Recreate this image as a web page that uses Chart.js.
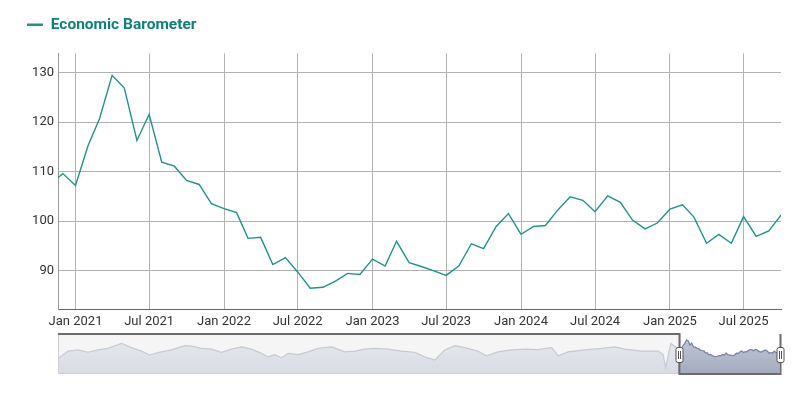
<!DOCTYPE html>
<html>
<head>
<meta charset="utf-8">
<script src="https://cdn.jsdelivr.net/npm/chart.js@4/dist/chart.umd.min.js"></script>
<style>
  body { margin: 0; background: #fff; }
  #wrap { position: relative; width: 805px; height: 393px; }
  #mainBox { position: absolute; left: 0; top: 0; width: 805px; height: 333px; }
  #navBox { position: absolute; left: 0; top: 330px; width: 805px; height: 50px; }
</style>
</head>
<body>
<div id="wrap">
  <div id="mainBox"><canvas id="mainChart"></canvas></div>
  <div id="navBox"><canvas id="navChart"></canvas></div>
</div>
<script>
    // Monthly index, first day of each month
    const months = [
        '2020-11', '2020-12',
        '2021-01', '2021-02', '2021-03', '2021-04', '2021-05', '2021-06', '2021-07', '2021-08', '2021-09', '2021-10', '2021-11', '2021-12',
        '2022-01', '2022-02', '2022-03', '2022-04', '2022-05', '2022-06', '2022-07', '2022-08', '2022-09', '2022-10', '2022-11', '2022-12',
        '2023-01', '2023-02', '2023-03', '2023-04', '2023-05', '2023-06', '2023-07', '2023-08', '2023-09', '2023-10', '2023-11', '2023-12',
        '2024-01', '2024-02', '2024-03', '2024-04', '2024-05', '2024-06', '2024-07', '2024-08', '2024-09', '2024-10', '2024-11', '2024-12',
        '2025-01', '2025-02', '2025-03', '2025-04', '2025-05', '2025-06', '2025-07', '2025-08', '2025-09', '2025-10'
    ]
    const barometer = [
        107.6, 109.6,
        107.2, 115.3, 120.7, 129.5, 126.9, 116.3, 121.6, 111.9, 111.1, 108.2, 107.4, 103.5,
        102.5, 101.7, 96.5, 96.7, 91.2, 92.6, 89.7, 86.4, 86.6, 87.8, 89.4, 89.2,
        92.3, 90.9, 95.9, 91.6, 90.8, 89.9, 89.0, 90.9, 95.4, 94.4, 98.9, 101.5,
        97.3, 98.9, 99.1, 102.3, 104.9, 104.2, 101.9, 105.1, 103.8, 100.2, 98.4, 99.6,
        102.4, 103.3, 100.8, 95.5, 97.3, 95.5, 100.9, 96.9, 98.0, 101.2
    ]

    // Axis ticks
    const yTicks = [90, 100, 110, 120, 130]
    const xTickMonths = ['2021-01', '2021-07', '2022-01', '2022-07', '2023-01', '2023-07', '2024-01', '2024-07', '2025-01', '2025-07']
    const monthNames = ['Jan', 'Feb', 'Mar', 'Apr', 'May', 'Jun', 'Jul', 'Aug', 'Sep', 'Oct', 'Nov', 'Dec']

    // Older history shown only in the navigator strip (decimal years)
    const navYears = [
        1990.83, 1991.32, 1991.80, 1992.28, 1992.77, 1993.25, 1993.90, 1994.39, 1994.87, 1995.27,
        1995.67, 1996.32, 1996.97, 1997.29, 1997.77, 1998.26, 1998.74, 1999.23, 1999.71, 2000.19,
        2000.68, 2001.00, 2001.32, 2001.65, 2001.97, 2002.45, 2002.93, 2003.42, 2004.07, 2004.71,
        2005.20, 2005.68, 2006.16, 2006.81, 2007.45, 2008.10, 2008.58, 2009.07, 2009.55, 2010.04,
        2010.52, 2011.15, 2011.57, 2012.12, 2012.78, 2013.43, 2014.05, 2014.72, 2015.04, 2015.52,
        2016.33, 2017.14, 2017.78, 2018.27, 2019.07, 2019.88, 2020.12, 2020.24, 2020.33, 2020.49,
        2020.60
    ]
    const navValues = [
        82, 101, 104, 98, 104, 108, 121, 110, 101, 91,
        97, 104, 115, 114, 108, 106, 98, 106, 112, 106,
        95, 86, 92, 84, 95, 92, 99, 108, 112, 99,
        101, 106, 108, 106, 101, 98, 86, 78, 104, 115,
        110, 101, 89, 99, 104, 106, 105, 110, 89, 99,
        104, 108, 112, 106, 101, 101, 92, 58, 82, 121,
        116
    ]

    const lineColor = '#1f948a'

    function toTime(ym) {
        const [y, m] = ym.split('-').map(Number)
        return Date.UTC(y, m - 1, 1)
    }
    function toYear(ms) {
        return 1970 + ms / (365.2425 * 864e5)
    }

    // visible window of the main chart
    const xMin = Date.UTC(2020, 10, 19)
    const xMax = Date.UTC(2025, 9, 1)

    Chart.defaults.font.family = 'Roboto, sans-serif'

    // push the plot down under the legend
    const legendGap = {
        id: 'legendGap',
        beforeInit(chart) {
            const fit = chart.legend.fit
            chart.legend.fit = function () {
                fit.bind(chart.legend)()
                this.height += 11
            }
        }
    }

    const mainChart = new Chart(document.getElementById('mainChart'), {
        type: 'line',
        data: {
            datasets: [{
                label: 'Economic Barometer',
                data: months.map((m, i) => ({ x: toTime(m), y: barometer[i] })),
                borderColor: lineColor,
                backgroundColor: lineColor,
                borderWidth: 1.4,
                pointRadius: 0,
                tension: 0
            }]
        },
        options: {
            responsive: true,
            maintainAspectRatio: false,
            animation: false,
            layout: { padding: { top: 7, left: 17, right: 24, bottom: 0 } },
            plugins: {
                legend: {
                    align: 'start',
                    labels: {
                        usePointStyle: true,
                        pointStyle: 'line',
                        pointStyleWidth: 16,
                        padding: 10,
                        color: '#0f8278',
                        font: { size: 15.5, weight: 'bold' },
                        generateLabels: chart => Chart.defaults.plugins.legend.labels.generateLabels(chart)
                            .map(l => ({ ...l, lineWidth: 2.5 }))
                    }
                },
                tooltip: { enabled: false }
            },
            scales: {
                x: {
                    type: 'linear',
                    min: xMin,
                    max: xMax,
                    afterBuildTicks: s => { s.ticks = xTickMonths.map(m => ({ value: toTime(m) })) },
                    afterFit: s => { s.height = 24 },
                    ticks: {
                        callback: v => {
                            const d = new Date(v)
                            return monthNames[d.getUTCMonth()] + ' ' + d.getUTCFullYear()
                        },
                        color: '#333',
                        font: { size: 13 },
                        padding: 5,
                        maxRotation: 0,
                        autoSkip: false
                    },
                    grid: { color: '#b3b3b3', drawTicks: false },
                    border: { color: '#666', width: 1 }
                },
                y: {
                    min: 82.2,
                    max: 133.9,
                    afterBuildTicks: s => { s.ticks = yTicks.map(v => ({ value: v })) },
                    afterFit: s => { s.width = 41 },
                    ticks: { color: '#333', font: { size: 13 }, padding: 4 },
                    grid: { color: '#b3b3b3', drawTicks: false },
                    border: { color: '#999', width: 1 }
                }
            }
        },
        plugins: [legendGap]
    })

    // Navigator strip
    const selFrom = toYear(xMin)
    const selTo = toYear(xMax)
    const recentYears = months.map(m => toYear(toTime(m)))

    function gradient(ctx, top, bottom) {
        const a = ctx.chart.chartArea
        if (!a) return 'rgba(0,0,0,0)'
        const g = ctx.chart.ctx.createLinearGradient(0, a.top, 0, a.bottom)
        g.addColorStop(0, top)
        g.addColorStop(1, bottom)
        return g
    }

    const navFrame = {
        id: 'navFrame',
        beforeDatasetsDraw(chart) {
            const { ctx, chartArea: a, scales: { x } } = chart
            const x0 = x.getPixelForValue(selFrom)
            ctx.save()
            ctx.fillStyle = '#f5f5f5'
            ctx.fillRect(a.left, a.top, x0 - a.left, a.bottom - a.top)
            ctx.restore()
        },
        afterDatasetsDraw(chart) {
            const { ctx, chartArea: a, scales: { x } } = chart
            const x0 = Math.round(x.getPixelForValue(selFrom)) + 0.5
            const x1 = Math.round(x.getPixelForValue(selTo)) + 0.5
            ctx.save()
            ctx.strokeStyle = '#d0d0d0'
            ctx.lineWidth = 1
            ctx.strokeRect(a.left + 0.5, a.top + 0.5, x0 - a.left, a.bottom - a.top - 1)

            ctx.strokeStyle = '#6b6b6b'
            ctx.lineWidth = 2
            ctx.beginPath()
            ctx.moveTo(a.left, a.top)
            ctx.lineTo(x0, a.top)
            ctx.lineTo(x0, a.bottom)
            ctx.lineTo(x1, a.bottom)
            ctx.lineTo(x1, a.top)
            ctx.stroke()

            const cy = Math.round((a.top + a.bottom) / 2) + 1
            ;[x0, x1].forEach(hx => {
                ctx.fillStyle = '#fff'
                ctx.strokeStyle = '#555'
                ctx.lineWidth = 1
                ctx.beginPath()
                ctx.roundRect(hx - 3.5, cy - 7.5, 7, 15, 2)
                ctx.fill()
                ctx.stroke()
                ctx.beginPath()
                ctx.moveTo(hx - 1, cy - 4); ctx.lineTo(hx - 1, cy + 4)
                ctx.moveTo(hx + 1, cy - 4); ctx.lineTo(hx + 1, cy + 4)
                ctx.stroke()
            })
            ctx.restore()
        }
    }

    const navChart = new Chart(document.getElementById('navChart'), {
        type: 'line',
        data: {
            datasets: [
                {
                    data: navYears.concat(recentYears).map((y, i) => ({ x: y, y: navValues.concat(barometer)[i] })),
                    borderColor: '#c6cad5',
                    borderWidth: 1.2,
                    backgroundColor: ctx => gradient(ctx, '#e8eaee', '#d8dbe3'),
                    fill: 'start',
                    pointRadius: 0,
                    order: 1
                },
                {
                    data: recentYears.map((y, i) => ({ x: y, y: barometer[i] })),
                    borderColor: '#7a84a2',
                    borderWidth: 1.2,
                    backgroundColor: ctx => gradient(ctx, '#c4cad7', '#a3abbf'),
                    fill: 'start',
                    pointRadius: 0,
                    order: 0
                }
            ]
        },
        options: {
            responsive: true,
            maintainAspectRatio: false,
            animation: false,
            layout: { padding: { top: 4, left: 58, right: 25.5, bottom: 6 } },
            plugins: { legend: { display: false }, tooltip: { enabled: false } },
            scales: {
                x: { type: 'linear', display: false, min: 1990.83, max: selTo },
                y: { display: false, min: 42, max: 145 }
            }
        },
        plugins: [navFrame]
    })
</script>
</body>
</html>
